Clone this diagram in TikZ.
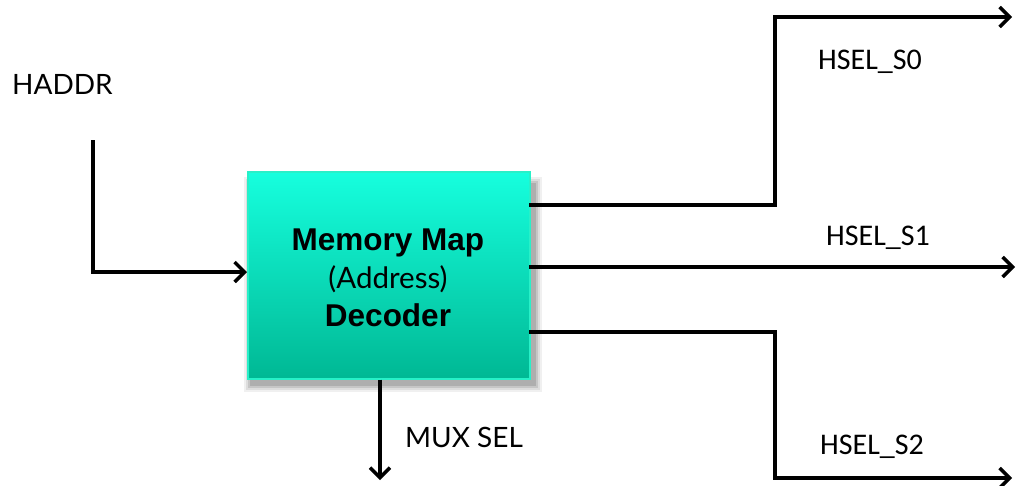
\documentclass[tikz,border=0pt]{standalone}
\usepackage{fontspec}
\setmainfont{Lato}
\newfontfamily\boxbold{Liberation Sans}
\newfontfamily\hselfont{Carlito}
\usetikzlibrary{arrows.meta}
\definecolor{boxtop}{RGB}{22,255,222}
\definecolor{boxbot}{RGB}{0,184,148}
\definecolor{boxedge}{RGB}{40,240,200}
\tikzset{
  wire/.style={line width=3.4pt, line join=miter},
  arr/.style={wire, -{Straight Barb[length=10pt,width=20pt,line width=3.4pt]}},
  lbl/.style={font=\fontsize{28}{32}\selectfont, inner sep=0pt},
  hsel/.style={font=\hselfont\fontsize{30}{34}\selectfont, inner sep=0pt},
}
\begin{document}
\begin{tikzpicture}[x=1pt,y=-1pt]
\useasboundingbox (0,0) rectangle (1018,485);
% soft shadow
\foreach \i/\o in {8/0.06,6/0.08,4/0.10,2/0.12}{
  \fill[black, opacity=\o] (247+5-\i,171+6-\i+8) rectangle (529+5+\i,378+6+\i);
}
\node[draw=boxedge, line width=1.5pt, top color=boxtop, bottom color=boxbot,
      minimum width=282pt, minimum height=207pt, inner sep=0pt, anchor=north west] (dec) at (247,171) {};
\node[align=center, inner sep=0pt, font=\fontsize{31.5}{38}\selectfont] (title) at (388,278) {%
  {\boxbold\bfseries Memory Map}\\
  {\fontsize{29.5}{38}\selectfont (Address)}\\
  {\boxbold\bfseries Decoder}};
\node[lbl, anchor=west] (haddr) at (12,84) {HADDR};
\coordinate (hin) at (93,140);
\draw[arr] (hin) |- (dec.west |- 0,272);
\coordinate (o0a) at (529,205);
\coordinate (o0) at (1012,17);
\draw[arr] (o0a) -- (775,205) -- (775,17) -- (o0);
\node[hsel, anchor=west] (s0) at (818,62) {HSEL\_S0};
\coordinate (o1a) at (529,267);
\coordinate (o1) at (1015,267);
\draw[arr] (o1a) -- (o1);
\node[hsel, anchor=west] (s1) at (826,238) {HSEL\_S1};
\coordinate (o2a) at (529,332);
\coordinate (o2) at (1012,478);
\draw[arr] (o2a) -- (775,332) -- (775,478) -- (o2);
\node[hsel, anchor=west] (s2) at (820,447) {HSEL\_S2};
\coordinate (mux) at (380,480);
\draw[arr] (dec.south -| 380,0) -- (mux);
\node[lbl, anchor=west] (muxl) at (405,437) {MUX SEL};
\end{tikzpicture}
\end{document}
